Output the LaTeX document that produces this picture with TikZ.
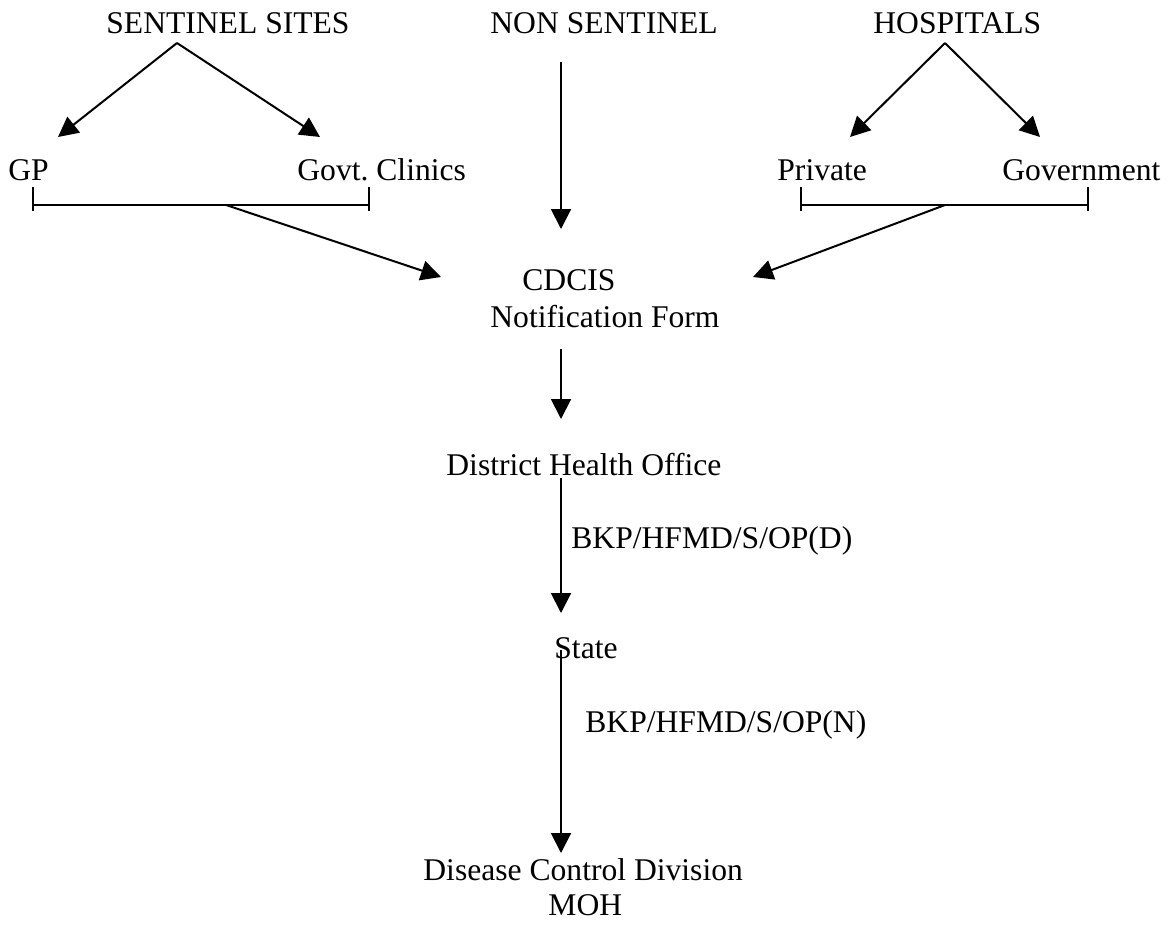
\documentclass[tikz,border=0pt]{standalone}
\usepackage{fontspec}
\setmainfont{Liberation Serif}
\usetikzlibrary{arrows.meta,calc}
\begin{document}
\frenchspacing
\begin{tikzpicture}[x=0.5pt,y=-0.5pt,
  lbl/.style={anchor=base west,inner sep=0pt,font=\fontsize{15.8}{19}\selectfont},
  conn/.style={line width=1pt,-{Triangle[length=10pt,width=10pt]}},
  brk/.style={line width=0.9pt}]
\useasboundingbox (0,0) rectangle (1171,926);
% texts
\node[lbl] (ss) at (106,33) {SENTINEL SITES};
\node[lbl] (ns) at (490,33) {NON SENTINEL};
\node[lbl] (hosp) at (873,33) {HOSPITALS};
\node[lbl] (gp) at (8,180) {GP};
\node[lbl] (gc) at (297,180) {Govt.\ Clinics};
\node[lbl] (pv) at (777,180) {Private};
\node[lbl] (gv) at (1002,180) {Government};
\node[lbl] (cd) at (522,290) {CDCIS};
\node[lbl] (nf) at (490,327) {Notification Form};
\node[lbl] (dho) at (446,475) {District Health Office};
\node[lbl] (lblD) at (571,548) {BKP/HFMD/S/OP(D)};
\node[lbl] (st) at (554,658) {State};
\node[lbl] (lblN) at (585,732) {BKP/HFMD/S/OP(N)};
\node[lbl] (dcd) at (423,880) {Disease Control Division};
\node[lbl] (moh) at (548,915) {MOH};
% connector points
\coordinate (ssA) at (177,43);
\coordinate (gpT) at (58,137);
\coordinate (gcT) at (320,137);
\coordinate (hA) at (945,43);
\coordinate (pvT) at (850,137);
\coordinate (gvT) at (1040,137);
\coordinate (lb1) at (33,205);
\coordinate (lb2) at (369,205);
\coordinate (lbM) at (226,205);
\coordinate (rb1) at (801,205);
\coordinate (rb2) at (1088,205);
\coordinate (rbM) at (945,205);
\coordinate (cdL) at (441,277);
\coordinate (cdR) at (753,277);
\coordinate (nsB) at (561,62);
\coordinate (cdT) at (561,229);
\coordinate (nfB) at (561,349);
\coordinate (dhoT) at (561,419);
\coordinate (dhoB) at (561,478);
\coordinate (stT) at (561,613);
\coordinate (stB) at (561,650);
\coordinate (dcdT) at (561,853);
% arrows
\draw[conn] (ssA) -- (gpT);
\draw[conn] (ssA) -- (gcT);
\draw[conn] (hA) -- (pvT);
\draw[conn] (hA) -- (gvT);
\draw[brk] (lb1) -- (lb2);
\draw[brk] ($(lb1)+(0,-18)$) -- ($(lb1)+(0,6)$);
\draw[brk] ($(lb2)+(0,-18)$) -- ($(lb2)+(0,6)$);
\draw[brk] (rb1) -- (rb2);
\draw[brk] ($(rb1)+(0,-18)$) -- ($(rb1)+(0,6)$);
\draw[brk] ($(rb2)+(0,-18)$) -- ($(rb2)+(0,6)$);
\draw[conn] (lbM) -- (cdL);
\draw[conn] (rbM) -- (cdR);
\draw[conn] (nsB) -- (cdT);
\draw[conn] (nfB) -- (dhoT);
\draw[conn] (dhoB) -- (stT);
\draw[conn] (stB) -- (dcdT);
\end{tikzpicture}
\end{document}
